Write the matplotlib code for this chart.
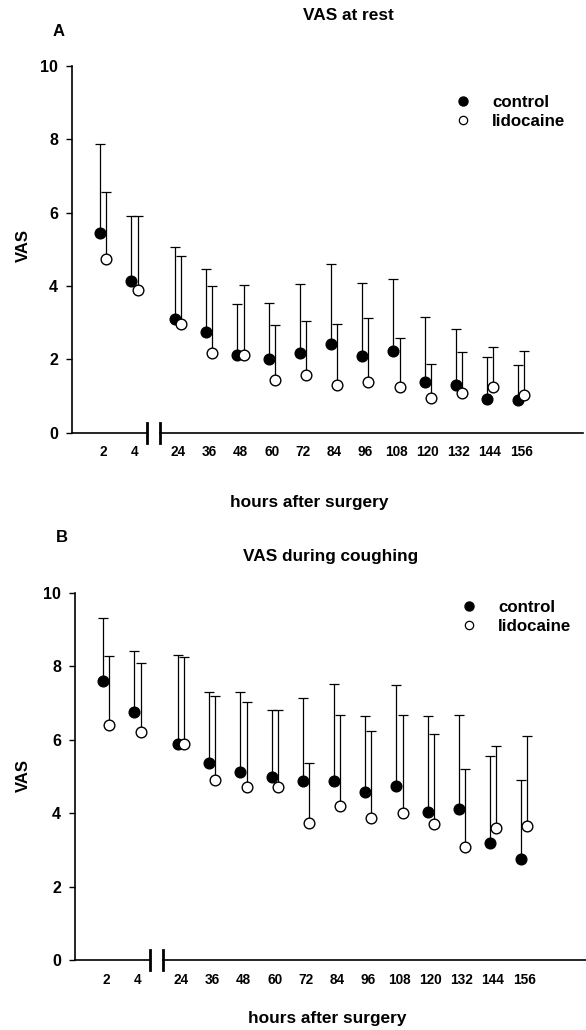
import numpy as np
import matplotlib
matplotlib.use('Agg')
from matplotlib import pyplot as plt

plt.rcParams['font.family'] = ['Liberation Sans', 'DejaVu Sans']
plt.rcParams['font.weight'] = 'bold'

hours = ['2', '4', '24', '36', '48', '60', '72', '84', '96', '108', '120', '132', '144', '156']
# x position of each time point (gap after 4 h for the axis break)
xpos = np.array([0, 1] + [2.4 + i for i in range(12)])

# panel A: VAS at rest (mean and mean + SD)
rest_ctrl = [5.44, 4.15, 3.10, 2.75, 2.12, 2.02, 2.17, 2.43, 2.08, 2.24, 1.39, 1.29, 0.92, 0.90]
rest_ctrl_up = [7.87, 5.91, 5.07, 4.46, 3.52, 3.55, 4.05, 4.60, 4.07, 4.19, 3.15, 2.82, 2.07, 1.85]
rest_lido = [4.73, 3.88, 2.96, 2.17, 2.12, 1.45, 1.57, 1.31, 1.39, 1.25, 0.95, 1.08, 1.25, 1.04]
rest_lido_up = [6.57, 5.90, 4.81, 3.99, 4.03, 2.94, 3.04, 2.97, 3.14, 2.59, 1.88, 2.21, 2.34, 2.24]

# panel B: VAS during coughing
cough_ctrl = [7.60, 6.76, 5.89, 5.37, 5.13, 4.97, 4.86, 4.86, 4.58, 4.75, 4.02, 4.11, 3.19, 2.75]
cough_ctrl_up = [9.32, 8.40, 8.30, 7.29, 7.29, 6.81, 7.14, 7.51, 6.63, 7.49, 6.65, 6.67, 5.55, 4.90]
cough_lido = [6.40, 6.20, 5.89, 4.90, 4.72, 4.72, 3.72, 4.19, 3.87, 4.01, 3.69, 3.07, 3.59, 3.65]
cough_lido_up = [8.28, 8.08, 8.24, 7.20, 7.02, 6.81, 5.37, 6.66, 6.24, 6.66, 6.16, 5.21, 5.83, 6.11]

W, H = 586, 1030
fig = plt.figure(figsize=(W / 100, H / 100), dpi=100)

off = 0.1
brk = (1.41, 1.83)
xlim = (-1.0, 15.38)


def upper_bars(ax, x, mean, up):
    # only the upper half of the SD bar is shown
    ax.vlines(x, mean, up, colors='black', lw=0.9, zorder=2)
    ax.plot(x, up, ls='none', marker='_', ms=7.5, mew=0.9, color='black', zorder=2)


def panel(rect, ctrl, ctrl_up, lido, lido_up):
    ax = fig.add_axes(rect)
    upper_bars(ax, xpos - off, ctrl, ctrl_up)
    upper_bars(ax, xpos + off, lido, lido_up)
    ax.plot(xpos - off, ctrl, 'o', ms=7.7, mfc='black', mec='black', zorder=4)
    ax.plot(xpos + off, lido, 'o', ms=7.7, mfc='white', mec='black', mew=1.0, zorder=5)
    ax.set_xlim(*xlim)
    ax.set_ylim(0, 10)
    ax.set_yticks([0, 2, 4, 6, 8, 10])
    ax.set_xticks(xpos)
    ax.set_xticklabels(hours, fontsize=9.8, fontweight='bold')
    ax.tick_params(axis='x', length=0, pad=9)
    ax.tick_params(axis='y', length=4, width=1.0, pad=6, labelsize=11.5)
    for t in ax.get_yticklabels():
        t.set_fontweight('bold')
    for s in ['top', 'right', 'bottom']:
        ax.spines[s].set_visible(False)
    ax.spines['left'].set_linewidth(1.2)
    tr = ax.get_xaxis_transform()
    ax.plot([xlim[0], brk[0]], [0, 0], color='black', lw=1.2, transform=tr, clip_on=False)
    ax.plot([brk[1], xlim[1]], [0, 0], color='black', lw=1.2, transform=tr, clip_on=False)
    for b in brk:
        ax.plot([b, b], [-0.027, 0.027], color='black', lw=2.0, transform=tr, clip_on=False)
    return ax


axA = panel([72 / W, 1 - 432.7 / H, 511 / W, 366.7 / H],
            rest_ctrl, rest_ctrl_up, rest_lido, rest_lido_up)
axB = panel([75 / W, 1 - 960 / H, 511 / W, 367.3 / H],
            cough_ctrl, cough_ctrl_up, cough_lido, cough_lido_up)

# panel letters, titles, axis labels
fig.text(59 / W, 1 - 32 / H, 'A', fontsize=12, fontweight='bold', ha='center', va='center')
fig.text(62 / W, 1 - 538 / H, 'B', fontsize=12, fontweight='bold', ha='center', va='center')
fig.text(348 / W, 1 - 16 / H, 'VAS at rest', fontsize=12.4, fontweight='bold', ha='center', va='center')
fig.text(331 / W, 1 - 557 / H, 'VAS during coughing', fontsize=12.4, fontweight='bold', ha='center', va='center')
fig.text(309 / W, 1 - 503 / H, 'hours after surgery', fontsize=12.4, fontweight='bold', ha='center', va='center')
fig.text(327 / W, 1 - 1018 / H, 'hours after surgery', fontsize=12.4, fontweight='bold', ha='center', va='center')
fig.text(23 / W, 1 - 246 / H, 'VAS', fontsize=12, fontweight='bold', rotation=90, ha='center', va='center')
fig.text(23 / W, 1 - 775 / H, 'VAS', fontsize=12, fontweight='bold', rotation=90, ha='center', va='center')

# legends
for ax, lx, ly in [(axA, 455, 95), (axB, 461, 600)]:
    h1, = ax.plot([], [], 'o', ms=6.5, mfc='black', mec='black')
    h2, = ax.plot([], [], 'o', ms=6, mfc='white', mec='black', mew=0.9)
    ax.legend([h1, h2], ['control', 'lidocaine'], loc='upper left',
              bbox_to_anchor=(lx / W, 1 - ly / H), bbox_transform=fig.transFigure,
              frameon=False, handlelength=1.0, handletextpad=1.2, labelspacing=0.25,
              borderpad=0, borderaxespad=0, prop={'size': 12.2, 'weight': 'bold'})

fig.savefig('out.png', dpi=100)
